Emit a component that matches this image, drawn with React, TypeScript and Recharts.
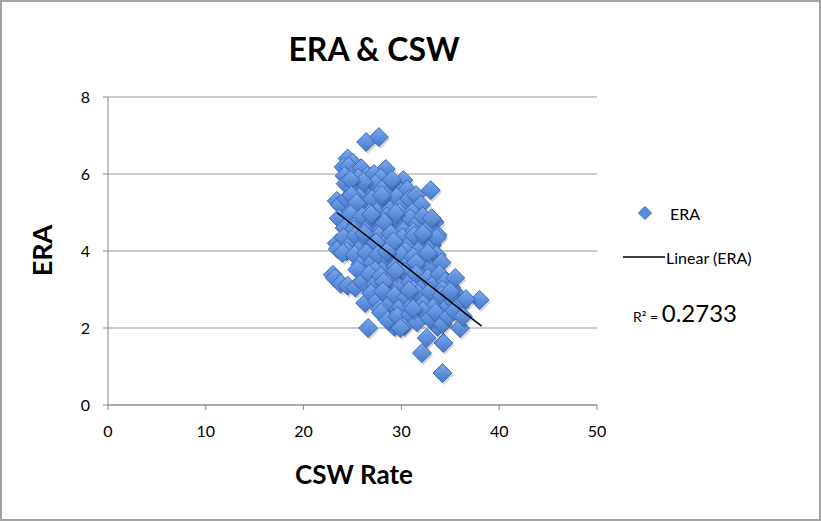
import {
  ScatterChart,
  Scatter,
  XAxis,
  YAxis,
  CartesianGrid,
} from 'recharts'

// CSW rate vs ERA
const eraPoints: [number, number][] = [
  // outer points
  [26.4, 6.83], [27.7, 6.96], [24.5, 6.4], [24.1, 6.18], [25.0, 6.3], [28.4, 6.13],
  [30.2, 5.84], [33.0, 5.58], [23.4, 5.3], [31.4, 5.14], [33.4, 4.75], [33.7, 4.42],
  [23.4, 4.2], [23.0, 3.38], [26.6, 2.0], [29.3, 2.03], [32.1, 1.35], [34.2, 0.83],
  [34.3, 1.61], [32.6, 1.74], [38.0, 2.73], [36.0, 2.0], [35.7, 2.86], [26.3, 2.65],
  [33.7, 2.03],
  // 6.0 - 6.4
  [24.6, 6.2], [25.3, 6.05], [25.9, 6.15], [26.5, 5.95], [27.2, 6.0], [24.2, 5.95],
  [25.6, 5.9], [27.9, 5.9],
  // 5.5 - 6.0
  [24.3, 5.75], [25.0, 5.6], [25.8, 5.7], [26.6, 5.55], [27.3, 5.75], [28.0, 5.6],
  [28.7, 5.5], [29.4, 5.7], [30.0, 5.55], [26.1, 5.8], [24.8, 5.85], [29.0, 5.85],
  [27.6, 5.45], [30.6, 5.6],
  // 5.0 - 5.5
  [23.7, 5.2], [24.4, 5.35], [25.1, 5.1], [25.7, 5.4], [26.3, 5.2], [27.0, 5.35],
  [27.6, 5.05], [28.3, 5.3], [28.9, 5.1], [29.5, 5.4], [30.1, 5.2], [30.8, 5.35],
  [31.5, 5.45], [29.8, 5.0], [26.8, 5.0], [24.9, 5.45], [32.0, 5.2], [31.1, 5.0],
  [25.4, 5.25], [28.0, 5.45],
  // 4.5 - 5.0
  [23.6, 4.85], [24.2, 4.6], [24.8, 4.95], [25.4, 4.7], [26.0, 4.9], [26.6, 4.6],
  [27.2, 4.8], [27.9, 4.55], [28.5, 4.9], [29.1, 4.65], [29.7, 4.8], [30.3, 4.55],
  [30.9, 4.85], [31.6, 4.7], [32.2, 4.9], [32.8, 4.6], [25.1, 4.55], [28.2, 4.75],
  [31.2, 4.5], [26.9, 4.95], [29.4, 4.98], [33.1, 4.85],
  // 4.0 - 4.5
  [23.5, 4.05], [24.1, 4.35], [24.7, 4.15], [25.3, 4.4], [25.9, 4.1], [26.5, 4.3],
  [27.1, 4.05], [27.7, 4.4], [28.3, 4.2], [28.9, 4.45], [29.5, 4.1], [30.1, 4.35],
  [30.7, 4.15], [31.3, 4.4], [31.9, 4.05], [32.5, 4.3], [33.1, 4.15], [33.6, 4.35],
  [26.2, 4.45], [29.2, 4.25], [32.2, 4.45], [24.4, 4.0], [30.4, 4.0], [27.4, 4.22],
  // 3.5 - 4.0
  [24.0, 3.95], [25.2, 3.9], [25.8, 3.65], [26.4, 3.95], [27.0, 3.7], [27.6, 3.9],
  [28.2, 3.55], [28.8, 3.8], [29.4, 3.6], [30.0, 3.9], [30.6, 3.65], [31.2, 3.85],
  [31.8, 3.55], [32.4, 3.8], [33.0, 3.6], [33.6, 3.9], [34.1, 3.7], [27.3, 3.5],
  [29.9, 3.52], [32.7, 3.95], [25.5, 3.52], [31.5, 3.7], [28.5, 3.98],
  // 3.0 - 3.5
  [23.2, 3.3], [23.8, 3.15], [24.5, 3.1], [25.3, 3.05], [26.0, 3.2], [26.7, 3.4],
  [27.3, 3.15], [27.9, 3.35], [28.5, 3.05], [29.1, 3.3], [29.7, 3.1], [30.3, 3.45],
  [30.9, 3.2], [31.5, 3.4], [32.1, 3.05], [32.7, 3.3], [33.3, 3.15], [33.9, 3.4],
  [34.5, 3.2], [35.1, 3.05], [35.5, 3.3], [28.2, 3.2], [31.2, 3.0], [34.2, 3.0],
  [29.4, 3.48],
  // 2.5 - 3.0
  [26.9, 2.9], [27.5, 2.7], [28.1, 2.95], [28.7, 2.6], [29.3, 2.85], [29.9, 2.55],
  [30.5, 2.8], [31.1, 2.6], [31.7, 2.9], [32.3, 2.65], [32.9, 2.95], [33.5, 2.6],
  [34.1, 2.85], [34.7, 2.55], [35.3, 2.7], [36.0, 2.6], [36.6, 2.75], [27.8, 2.5],
  [30.8, 2.98], [33.2, 2.52], [35.0, 2.95],
  // 2.0 - 2.5
  [27.9, 2.4], [28.6, 2.2], [29.6, 2.3], [30.3, 2.05], [30.9, 2.35], [31.6, 2.15],
  [32.2, 2.45], [32.9, 2.25], [33.5, 2.4], [34.2, 2.1], [34.8, 2.3], [35.4, 2.45],
  [36.3, 2.3], [31.2, 2.5], [29.9, 2.0],
]

// trendline ends as drawn in the picture
const trendEnds: [number, number][] = [
  [23.4, 5.0],
  [38.2, 2.05],
]

const xTicks = [0, 10, 20, 30, 40, 50]
const yTicks = [0, 2, 4, 6, 8]
const rSquared = '0.2733'

const FONT = 'Lato, "Open Sans", sans-serif'

const scatterData = eraPoints.map(([x, y]) => ({ x, y }))
const trendData = trendEnds.map(([x, y]) => ({ x, y }))

const diamondPoints = (cx: number, cy: number, r: number) =>
  `${cx},${cy - r} ${cx + r},${cy} ${cx},${cy + r} ${cx - r},${cy}`

const Diamond = (props: any) => {
  const { cx, cy } = props
  if (cx == null || cy == null) return <g />
  return (
    <g>
      <polygon points={diamondPoints(cx + 1.5, cy + 2.5, 9.5)} fill="rgba(0,0,0,0.16)" />
      <polygon
        points={diamondPoints(cx, cy, 9.5)}
        fill="url(#diamondFill)"
        stroke="#3a6bbd"
        strokeWidth={1}
      />
    </g>
  )
}

const NoDot = () => <g />

const LegendBox = () => (
  <div style={{ fontFamily: FONT, color: '#000', width: 190 }}>
    <div style={{ display: 'flex', alignItems: 'center', height: 24 }}>
      <svg width={46} height={20}>
        <polygon points={diamondPoints(23, 10, 6.5)} fill="#5a8fd8" stroke="#3a6bbd" />
      </svg>
      <span style={{ fontSize: 16, marginLeft: 2 }}>ERA</span>
    </div>
    <div style={{ display: 'flex', alignItems: 'center', height: 24, marginTop: 20 }}>
      <svg width={44} height={20}>
        <line x1={1} y1={10} x2={43} y2={10} stroke="#000" strokeWidth={1.5} />
      </svg>
      <span style={{ fontSize: 16 }}>Linear (ERA)</span>
    </div>
  </div>
)

export default function App() {
  return (
    <div
      style={{
        position: 'absolute',
        left: 0,
        top: 0,
        width: 821,
        height: 521,
        boxSizing: 'border-box',
        border: '2px solid #a3a3a3',
        background: '#fff',
        fontFamily: FONT,
      }}
    >
      <div style={{ position: 'absolute', left: -2, top: -2, width: 821, height: 521 }}>
        <ScatterChart
          width={821}
          height={521}
          margin={{ top: 97, right: 224, bottom: 86, left: 76 }}
        >
          <defs>
            <linearGradient id="diamondFill" x1="0" y1="0" x2="0" y2="1">
              <stop offset="0%" stopColor="#7aa8ec" />
              <stop offset="100%" stopColor="#4679cc" />
            </linearGradient>
          </defs>
          <CartesianGrid vertical={false} stroke="#9a9a9a" strokeWidth={1.2} />
          <XAxis
            type="number"
            dataKey="x"
            domain={[0, 50]}
            ticks={xTicks}
            height={30}
            tickSize={5}
            tickMargin={16}
            stroke="#8a8a8a"
            tick={{ fill: '#000', fontSize: 16, fontFamily: FONT }}
          />
          <YAxis
            type="number"
            dataKey="y"
            domain={[0, 8]}
            ticks={yTicks}
            width={32}
            tickSize={5}
            tickMargin={13}
            stroke="#8a8a8a"
            tick={{ fill: '#000', fontSize: 16, fontFamily: FONT }}
          />
          <Scatter
            name="ERA"
            data={scatterData}
            shape={Diamond}
            isAnimationActive={false}
          />
          <Scatter
            name="Linear (ERA)"
            data={trendData}
            shape={NoDot}
            line={{ stroke: '#000', strokeWidth: 1.5 }}
            legendType="none"
            isAnimationActive={false}
          />
        </ScatterChart>
      </div>

      <div style={{ position: 'absolute', left: 620, top: 199 }}>
        <LegendBox />
      </div>

      <div
        style={{
          position: 'absolute',
          left: 0,
          top: 27,
          width: 744,
          textAlign: 'center',
          fontSize: 32,
          fontWeight: 700,
          color: '#000',
        }}
      >
        ERA &amp; CSW
      </div>
      <div
        style={{
          position: 'absolute',
          left: 252,
          top: 456,
          width: 200,
          textAlign: 'center',
          fontSize: 26,
          fontWeight: 700,
          color: '#000',
        }}
      >
        CSW Rate
      </div>
      <div
        style={{
          position: 'absolute',
          left: 0,
          top: 232,
          width: 80,
          textAlign: 'center',
          fontSize: 27,
          fontWeight: 700,
          color: '#000',
          transform: 'translate(-1px, 0) rotate(-90deg)',
        }}
      >
        ERA
      </div>
      <div
        style={{
          position: 'absolute',
          left: 631,
          top: 296,
          color: '#000',
          whiteSpace: 'nowrap',
        }}
      >
        <span style={{ fontSize: 14 }}>R² = </span>
        <span style={{ fontSize: 24 }}>{rSquared}</span>
      </div>
    </div>
  )
}
